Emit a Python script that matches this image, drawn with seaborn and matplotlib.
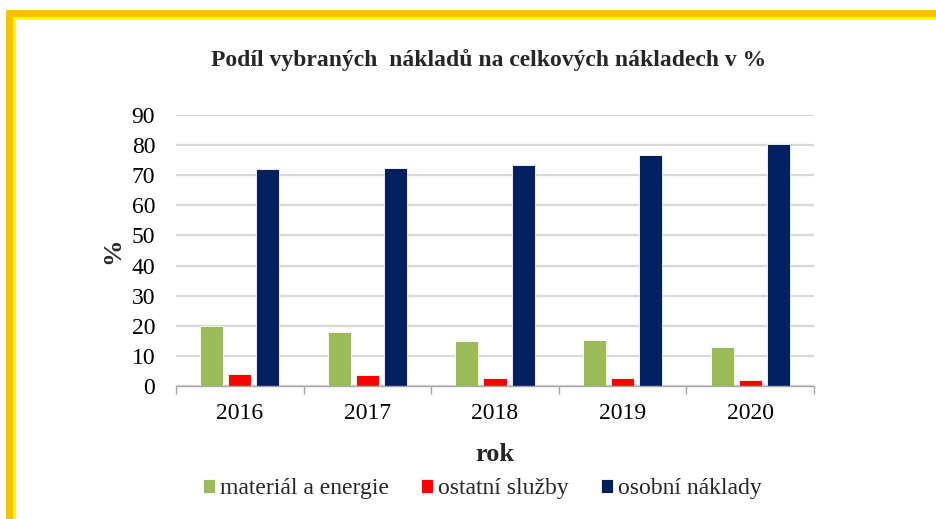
import matplotlib
matplotlib.use("Agg")
import matplotlib.pyplot as plt
import seaborn as sns
import pandas as pd
from matplotlib.patches import Rectangle
from matplotlib.ticker import FixedLocator, NullFormatter

years = ["2016", "2017", "2018", "2019", "2020"]
material = [20.0, 17.8, 15.0, 15.4, 12.9]
sluzby = [3.9, 3.5, 2.7, 2.7, 1.9]
osobni = [72.0, 72.4, 73.3, 76.7, 80.5]
series_names = ["materiál a energie", "ostatní služby", "osobní náklady"]
colors = ["#9BBB59", "#FF0000", "#002060"]

rows = []
for name, vals in zip(series_names, [material, sluzby, osobni]):
    for y, v in zip(years, vals):
        rows.append({"rok": y, "serie": name, "hodnota": v})
df = pd.DataFrame(rows)

sns.set_theme(style="white")
plt.rcParams["font.family"] = ["Liberation Serif", "DejaVu Serif"]

W, H = 936, 519
fig = plt.figure(figsize=(W / 100, H / 100), dpi=100)
ax = fig.add_axes([176 / W, 1 - 386 / H, (814 - 176) / W, (386 - 115) / H])

sns.barplot(data=df, x="rok", y="hodnota", hue="serie", hue_order=series_names,
            palette=colors, width=0.66, gap=0.18, ax=ax, legend=True,
            saturation=1, edgecolor="white", linewidth=0.6, zorder=3)

ax.set_ylim(0, 90)
ax.set_xlim(-0.5, 4.5)
ax.set_yticks(range(0, 91, 10))
ax.yaxis.grid(True, color="#D9D9D9", linewidth=1.6, zorder=0)
ax.xaxis.grid(False)
for s in ["top", "right", "left"]:
    ax.spines[s].set_visible(False)
ax.spines["bottom"].set_color("#A6A6A6")
ax.spines["bottom"].set_linewidth(1.0)
ax.spines["bottom"].set_zorder(4)

# ticks at category boundaries, labels at centers
ax.xaxis.set_major_locator(FixedLocator([i - 0.5 for i in range(len(years) + 1)]))
ax.xaxis.set_major_formatter(NullFormatter())
ax.xaxis.set_minor_locator(FixedLocator(list(range(len(years)))))
ax.set_xticklabels(years, minor=True)
ax.tick_params(axis="x", which="major", bottom=True, length=6, width=1.0, color="#A6A6A6")
ax.tick_params(axis="x", which="minor", bottom=False, length=0, labelsize=17, pad=12, labelcolor="black")
ax.tick_params(axis="y", left=False, labelsize=17, pad=9, labelcolor="black")

ax.set_xlabel("rok", fontsize=19, fontweight="bold", labelpad=14)
ax.set_ylabel("%", fontsize=19, fontweight="bold", labelpad=5)

ax.set_title("Podíl vybraných  nákladů na celkových nákladech v %", fontsize=17,
             fontweight="bold", pad=35, x=0.49)

leg = ax.legend(loc="upper center", bbox_to_anchor=(0.48, -0.262), ncol=3, frameon=False,
                fontsize=17, handlelength=0.5, handleheight=0.5, handletextpad=0.2,
                columnspacing=1.38)

# yellow/orange frame (top and left)
fig.patches.append(Rectangle((6 / W, 0), 7 / W, 1 - 10 / H, transform=fig.transFigure,
                             facecolor="#FFC000", edgecolor="none"))
fig.patches.append(Rectangle((6 / W, 1 - 17 / H), 1 - 6 / W, 7 / H, transform=fig.transFigure,
                             facecolor="#FFC000", edgecolor="none"))
fig.patches.append(Rectangle((13 / W, 0), 3 / W, 1 - 17 / H, transform=fig.transFigure,
                             facecolor="#FFFF00", edgecolor="none"))
fig.patches.append(Rectangle((13 / W, 1 - 20 / H), 1 - 13 / W, 3 / H, transform=fig.transFigure,
                             facecolor="#FFFF00", edgecolor="none"))

fig.savefig("out.png", dpi=100)
